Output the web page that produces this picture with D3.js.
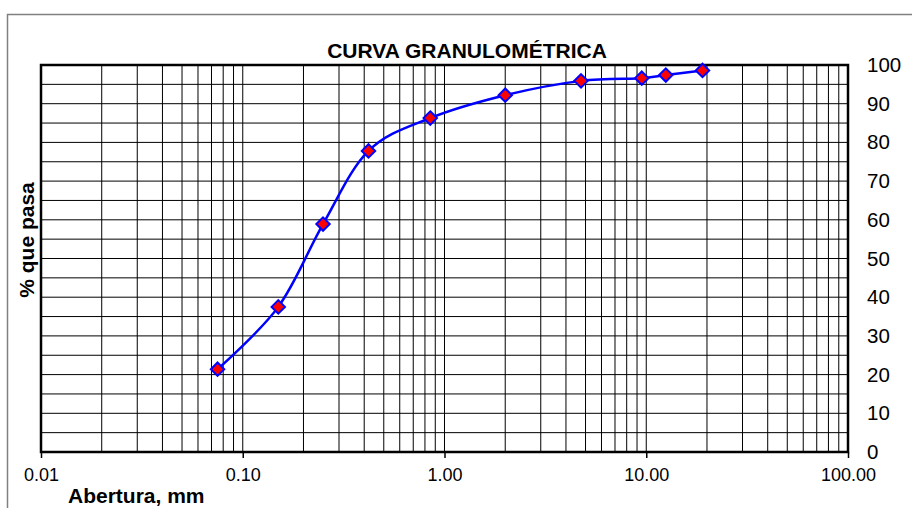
<!DOCTYPE html>
<html>
<head>
<meta charset="utf-8">
<script src="https://cdn.jsdelivr.net/npm/d3@7"></script>
<style>
  body { margin: 0; background: #fff; }
  text { font-family: "Liberation Sans", Arial, sans-serif; }
</style>
</head>
<body>
<svg id="chart" width="912" height="508"></svg>
<script>
// sieve openings (mm) and % passing
var openings = [0.075, 0.15, 0.25, 0.42, 0.85, 2.0, 4.75, 9.5, 12.5, 19.0]
var passing  = [21.4, 37.5, 58.9, 77.8, 86.3, 92.2, 95.9, 96.6, 97.4, 98.6]

var xTicks = [0.01, 0.1, 1, 10, 100]
var yTicks = [0, 10, 20, 30, 40, 50, 60, 70, 80, 90, 100]

var data = openings.map((d, i) => ({x: d, y: passing[i]}))

var svg = d3.select("#chart"),
    margin = {top: 65, left: 41, bottom: 56, right: 64},
    width = +svg.attr("width"),
    height = +svg.attr("height");

var xScale = d3.scaleLog()
    .domain([0.01, 100])
    .range([margin.left, width - margin.right])

var yScale = d3.scaleLinear()
    .domain([0, 100])
    .range([height - margin.bottom, margin.top])

// outer frame of the chart object
svg.append("rect")
    .attr("x", 7.5).attr("y", 14.5)
    .attr("width", 920).attr("height", 520)
    .attr("fill", "none")
    .attr("stroke", "#808080")
    .attr("stroke-width", 1.5)

// grid
var grid = svg.append("g").attr("stroke", "#000").attr("stroke-width", 1)

grid.selectAll(".vline")
    .data(xScale.ticks())
    .enter().append("line")
    .attr("class", "vline")
    .attr("x1", d => xScale(d)).attr("x2", d => xScale(d))
    .attr("y1", yScale(0)).attr("y2", yScale(100))

grid.selectAll(".hline")
    .data(yScale.ticks(20))
    .enter().append("line")
    .attr("class", "hline")
    .attr("x1", xScale(0.01)).attr("x2", xScale(100))
    .attr("y1", d => yScale(d)).attr("y2", d => yScale(d))

// axes
var xAxis = svg.append("g")
    .attr("transform", `translate(0, ${yScale(0)})`)
    .call(d3.axisBottom(xScale).tickValues(xTicks).tickFormat(d3.format(".2f")).tickSize(6).tickPadding(10))

xAxis.select(".domain").remove()
xAxis.selectAll("line").attr("stroke", "#000").attr("stroke-width", 1.5)
xAxis.selectAll("text").attr("font-size", 18).attr("font-family", "Liberation Sans, Arial, sans-serif").attr("fill", "#000")

var yAxis = svg.append("g")
    .attr("transform", `translate(${xScale(100)}, 0)`)
    .call(d3.axisRight(yScale).tickValues(yTicks).tickSize(0).tickPadding(19))

yAxis.select(".domain").remove()
yAxis.selectAll("text").attr("font-size", 20.5).attr("font-family", "Liberation Sans, Arial, sans-serif").attr("fill", "#000")

// plot border
svg.append("rect")
    .attr("x", xScale(0.01)).attr("y", yScale(100))
    .attr("width", xScale(100) - xScale(0.01))
    .attr("height", yScale(0) - yScale(100))
    .attr("fill", "none")
    .attr("stroke", "#000")
    .attr("stroke-width", 2.5)

// smoothed curve
var line = d3.line()
    .x(d => xScale(d.x))
    .y(d => yScale(d.y))
    .curve(d3.curveCardinal.tension(0))

svg.append("path")
    .datum(data)
    .attr("d", line)
    .attr("fill", "none")
    .attr("stroke", "#0000ff")
    .attr("stroke-width", 2.5)

svg.selectAll(".marker")
    .data(data)
    .enter().append("path")
    .attr("class", "marker")
    .attr("d", d3.symbol().type(d3.symbolDiamond2).size(115))
    .attr("transform", d => `translate(${xScale(d.x)},${yScale(d.y)})`)
    .attr("fill", "#ff0000")
    .attr("stroke", "#0000ff")
    .attr("stroke-width", 2)

// titles
svg.append("text")
    .attr("x", 467).attr("y", 58)
    .attr("text-anchor", "middle")
    .attr("font-size", 21).attr("font-weight", "bold")
    .text("CURVA GRANULOMÉTRICA")

svg.append("text")
    .attr("transform", "translate(34, 240) rotate(-90)")
    .attr("text-anchor", "middle")
    .attr("font-size", 21).attr("font-weight", "bold")
    .text("% que pasa")

svg.append("text")
    .attr("x", 68).attr("y", 503)
    .attr("font-size", 21).attr("font-weight", "bold")
    .text("Abertura, mm")
</script>
</body>
</html>
